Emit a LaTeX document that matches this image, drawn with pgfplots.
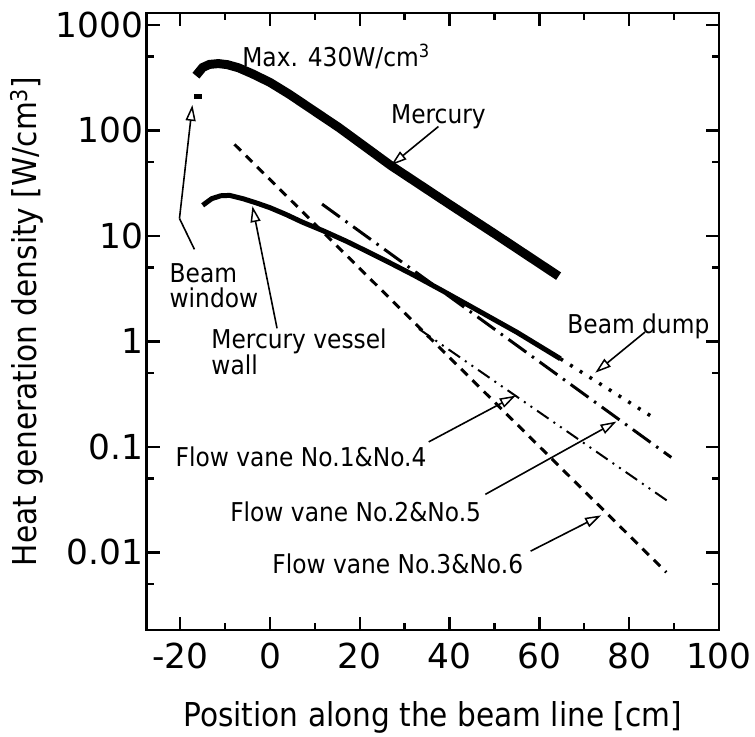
\documentclass[border=0pt]{standalone}
\usepackage{fontspec}
\setmainfont{DejaVu Sans}[FakeStretch=0.9]
\newfontfamily\tickfamily{DejaVu Sans}
\usepackage{pgfplots}
\pgfplotsset{compat=1.18}
\usetikzlibrary{arrows.meta,calc}
\newcommand{\lab}{\fontsize{33bp}{40bp}\selectfont}
\newcommand{\tck}{\tickfamily\fontsize{34.5bp}{40bp}\selectfont}
\newcommand{\ann}{\fontsize{26bp}{31bp}\selectfont}
\tikzset{annarrow/.style={line width=1.6bp,-{Triangle[open,length=16bp,width=10bp,line width=1.5bp]}}}
\begin{document}
\begin{tikzpicture}
\begin{axis}[
  scale only axis, width=574bp, height=619bp,
  xmin=-27.5, xmax=100, ymode=log, ymin=0.00183, ymax=1298,
  xtick={-20,0,20,40,60,80,100}, xticklabels={-20,0,20,40,60,80,100},
  minor xtick={-10,10,30,50,70,90},
  ytick={0.01,0.1,1,10,100,1000}, yticklabels={0.01,0.1,1,10,100,1000},
  minor ytick={0.005,0.05,0.5,5,50,500},
  axis line style={line width=2.5bp},
  major tick length=13bp, minor tick length=7bp,
  tick style={line width=2.5bp, black},
  ticklabel style={font=\tck},
  xticklabel style={yshift=-9bp},
  /pgf/number format/assume math mode=true,
  xlabel={Position along the beam line [cm]},
  ylabel={Heat generation density [W/cm\textsuperscript{3}]},
  label style={font=\lab},
  xlabel style={yshift=-26bp},
  ylabel style={yshift=5bp},
]
% Mercury
\addplot[line width=9bp, black, line cap=butt] coordinates {
(-16.5,330) (-15,395) (-13.5,422) (-11.5,430) (-9.5,420) (-7,392) (-4,345) (0,285) (4.3,220) (15.4,106) (26.9,46.5) (40,19.9) (50,10.5) (64.3,4.15)};
% Beam window
\addplot[line width=5bp, black] coordinates {(-16.9,208) (-15.2,208)};
% Mercury vessel wall
\addplot[line width=5bp, black] coordinates {
(-15,19.5) (-13,22.5) (-11,24) (-9,24.2) (-6,22.5) (-3,20.5) (0,18.5) (3.5,16) (7.2,13.5) (12,11.1) (17,8.9) (22,7.0) (27,5.47) (32,4.25) (38,3.09) (45,2.11) (55,1.22) (64.7,0.684)};
% Beam dump
\addplot[line width=3.5bp, black, dash pattern=on 3bp off 8.5bp] coordinates {(64.7,0.684) (84.7,0.198)};
% Flow vane 3&6
\addplot[line width=3bp, black, dash pattern=on 9bp off 7bp] coordinates {(-7.9,73.6) (88.3,0.00646)};
% Flow vane 2&5
\addplot[line width=3bp, black, dash pattern=on 22bp off 7bp on 2.5bp off 7bp] coordinates {(11.6,20) (89.4,0.0794)};
% Flow vane 1&4
\addplot[line width=2bp, black, dash pattern=on 14bp off 6bp on 2bp off 6bp on 2bp off 6bp] coordinates {(33.2,1.31) (89.4,0.029)};
% annotations
\node[font=\ann, inner sep=0, anchor=base west] at (rel axis cs:0.167,0.913) {Max. 430W/cm\textsuperscript{3}};
\node[font=\ann, inner sep=0, anchor=base west] at (rel axis cs:0.427,0.821) {Mercury};
\draw[annarrow] (rel axis cs:0.510,0.816) -- (rel axis cs:0.427,0.753);
\node[font=\ann, inner sep=0, anchor=base west] at (rel axis cs:0.040,0.564) {Beam};
\node[font=\ann, inner sep=0, anchor=base west] at (rel axis cs:0.040,0.523) {window};
\draw[line width=1.6bp] (rel axis cs:0.0836,0.617) -- (rel axis cs:0.0575,0.667);
\draw[annarrow] (rel axis cs:0.0575,0.667) -- (rel axis cs:0.0801,0.851);
\node[font=\ann, inner sep=0, anchor=base west] at (rel axis cs:0.113,0.456) {Mercury vessel};
\node[font=\ann, inner sep=0, anchor=base west] at (rel axis cs:0.113,0.415) {wall};
\draw[annarrow] (rel axis cs:0.228,0.489) -- (rel axis cs:0.185,0.687);
\node[font=\ann, inner sep=0, anchor=base west] at (rel axis cs:0.735,0.480) {Beam dump};
\draw[annarrow] (rel axis cs:0.871,0.483) -- (rel axis cs:0.784,0.417);
\node[font=\ann, inner sep=0, anchor=base west] at (rel axis cs:0.0505,0.265) {Flow vane No.1\&No.4};
\draw[annarrow] (rel axis cs:0.493,0.305) -- (rel axis cs:0.645,0.380);
\node[font=\ann, inner sep=0, anchor=base west] at (rel axis cs:0.146,0.176) {Flow vane No.2\&No.5};
\draw[annarrow] (rel axis cs:0.592,0.220) -- (rel axis cs:0.821,0.338);
\node[font=\ann, inner sep=0, anchor=base west] at (rel axis cs:0.2195,0.092) {Flow vane No.3\&No.6};
\draw[annarrow] (rel axis cs:0.671,0.128) -- (rel axis cs:0.794,0.186);
\end{axis}
\path ($(current axis.south west)+(-147bp,-104bp)$) rectangle ($(current axis.north east)+(34bp,13bp)$);
\end{tikzpicture}
\end{document}
